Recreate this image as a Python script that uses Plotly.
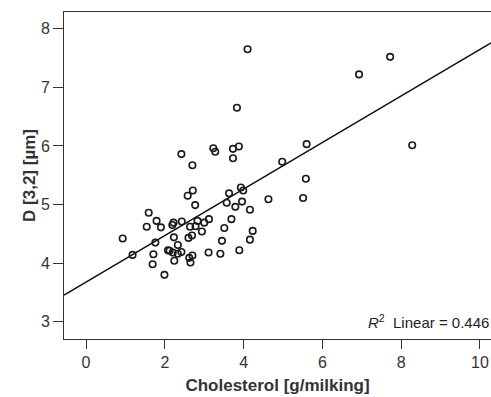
import numpy as np
import plotly.graph_objects as go

# Data
cholesterol = [4.10, 3.83, 2.42, 2.70, 3.23, 3.28, 3.73, 3.88, 3.73, 7.72,
               6.93, 5.60, 4.98, 8.28, 5.58, 5.51, 4.63, 2.58, 2.71, 2.77,
               3.63, 3.93, 3.99, 3.57, 3.96, 3.79, 4.16, 1.59, 1.79, 1.54,
               1.90, 2.22, 2.19, 2.43, 2.64, 2.78, 2.83, 3.00, 3.12, 2.94,
               2.69, 2.60, 2.23, 1.76, 2.33, 3.69, 3.51, 4.23, 3.45, 4.16,
               0.93, 1.18, 1.71, 2.08, 2.12, 2.20, 2.33, 2.42, 2.62, 2.70,
               2.65, 2.24, 1.69, 1.99, 3.11, 3.41, 3.89]
d32 = [7.65, 6.65, 5.86, 5.67, 5.96, 5.90, 5.95, 5.99, 5.79, 7.52,
       7.22, 6.03, 5.73, 6.01, 5.44, 5.11, 5.09, 5.15, 5.24, 4.99,
       5.19, 5.29, 5.24, 5.03, 5.05, 4.96, 4.91, 4.86, 4.72, 4.62,
       4.61, 4.69, 4.65, 4.71, 4.62, 4.63, 4.72, 4.69, 4.75, 4.54,
       4.47, 4.43, 4.44, 4.35, 4.31, 4.75, 4.60, 4.55, 4.38, 4.40,
       4.42, 4.14, 4.15, 4.22, 4.21, 4.18, 4.16, 4.19, 4.09, 4.13,
       4.01, 4.04, 3.98, 3.80, 4.18, 4.16, 4.22]

# Fit line as shown in the picture
fit_intercept = 3.678
fit_slope = 0.397
r2_text = "0.446"

x_range = [-0.56, 10.28]
y_range = [2.705, 8.285]
x_ticks = [0, 2, 4, 6, 8, 10]
y_ticks = [3, 4, 5, 6, 7, 8]

fit_x = np.array(x_range)
fit_y = fit_intercept + fit_slope * fit_x

axis_color = "#333333"
font_family = "Liberation Sans, Arial, sans-serif"

fig = go.Figure()
fig.add_trace(go.Scatter(
    x=fit_x, y=fit_y, mode="lines",
    line=dict(color="#111111", width=1.5),
    hoverinfo="skip", showlegend=False))
fig.add_trace(go.Scatter(
    x=cholesterol, y=d32, mode="markers",
    marker=dict(symbol="circle-open", size=6.5,
                color="#1a1a1a", line=dict(width=1.6, color="#1a1a1a")),
    showlegend=False))

fig.add_annotation(
    x=1, y=0, xref="paper", yref="paper", xanchor="right", yanchor="bottom",
    xshift=0, yshift=6, showarrow=False,
    text="<i>R</i><sup>2</sup>  Linear = " + r2_text,
    font=dict(family=font_family, size=15, color="#222222"))

fig.update_layout(
    width=491, height=397,
    margin=dict(l=64, r=0, t=12, b=58),
    paper_bgcolor="white", plot_bgcolor="white",
    font=dict(family=font_family, color=axis_color),
    xaxis=dict(range=x_range, tickvals=x_ticks, showgrid=False, zeroline=False,
               showline=True, linecolor=axis_color, linewidth=1, mirror=True,
               ticks="outside", ticklen=9, tickcolor=axis_color, tickwidth=1,
               tickfont=dict(size=16, color=axis_color),
               title=dict(text="<b>Cholesterol [g/milking]</b>", standoff=8,
                          font=dict(size=17, color=axis_color))),
    yaxis=dict(range=y_range, tickvals=y_ticks, showgrid=False, zeroline=False,
               showline=True, linecolor=axis_color, linewidth=1, mirror=False,
               ticks="outside", ticklen=10, tickcolor=axis_color, tickwidth=1,
               tickfont=dict(size=16, color=axis_color),
               title=dict(text="<b>D [3,2] [µm]</b>", standoff=0,
                          font=dict(size=17, color=axis_color))),
)

fig.write_html("out.html")
